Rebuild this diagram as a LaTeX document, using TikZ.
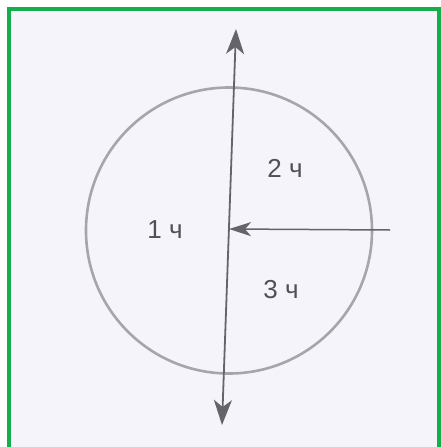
\documentclass[tikz,border=0pt]{standalone}
\usepackage{fontspec}
\setmainfont{Liberation Sans}
\usetikzlibrary{arrows.meta}
\definecolor{paper}{RGB}{245,244,250}
\definecolor{frame}{RGB}{20,175,75}
\definecolor{pencil}{RGB}{100,100,108}
\definecolor{ring}{RGB}{165,165,170}
\begin{document}
\begin{tikzpicture}[x=1pt, y=-1pt, axis/.style={line width=1.8pt, draw=pencil}, part/.style={text=pencil!80!black, font=\fontsize{26}{30}\selectfont}]
			\useasboundingbox (0,0) rectangle (440,447);
			\fill[white] (0,0) rectangle (440,447);
			\fill[paper] (11,11) rectangle (438,447);
			\draw[frame, line width=4pt] (9,447) -- (9,9) -- (439,9) -- (439,447);
			\draw[ring, line width=2.6pt] (229,230.5) circle[radius=143];
			\coordinate (top) at (236,29);
			\coordinate (bottom) at (222,425);
			\coordinate (centre) at (229,229);
			\coordinate (start) at (390,230);
			\draw[axis, {Stealth[length=25pt, width=18pt, inset=7pt]}-{Stealth[length=25pt, width=18pt, inset=7pt]}] (top) -- (bottom);
			\draw[axis, line width=1.5pt, -{Stealth[length=22pt, width=14pt, inset=6pt]}] (start) -- (centre);
			\node[part] (one) at (165,230) {1 ч};
			\node[part] (two) at (285,168) {2 ч};
			\node[part] (three) at (281,290) {3 ч};
			\end{tikzpicture}
\end{document}
